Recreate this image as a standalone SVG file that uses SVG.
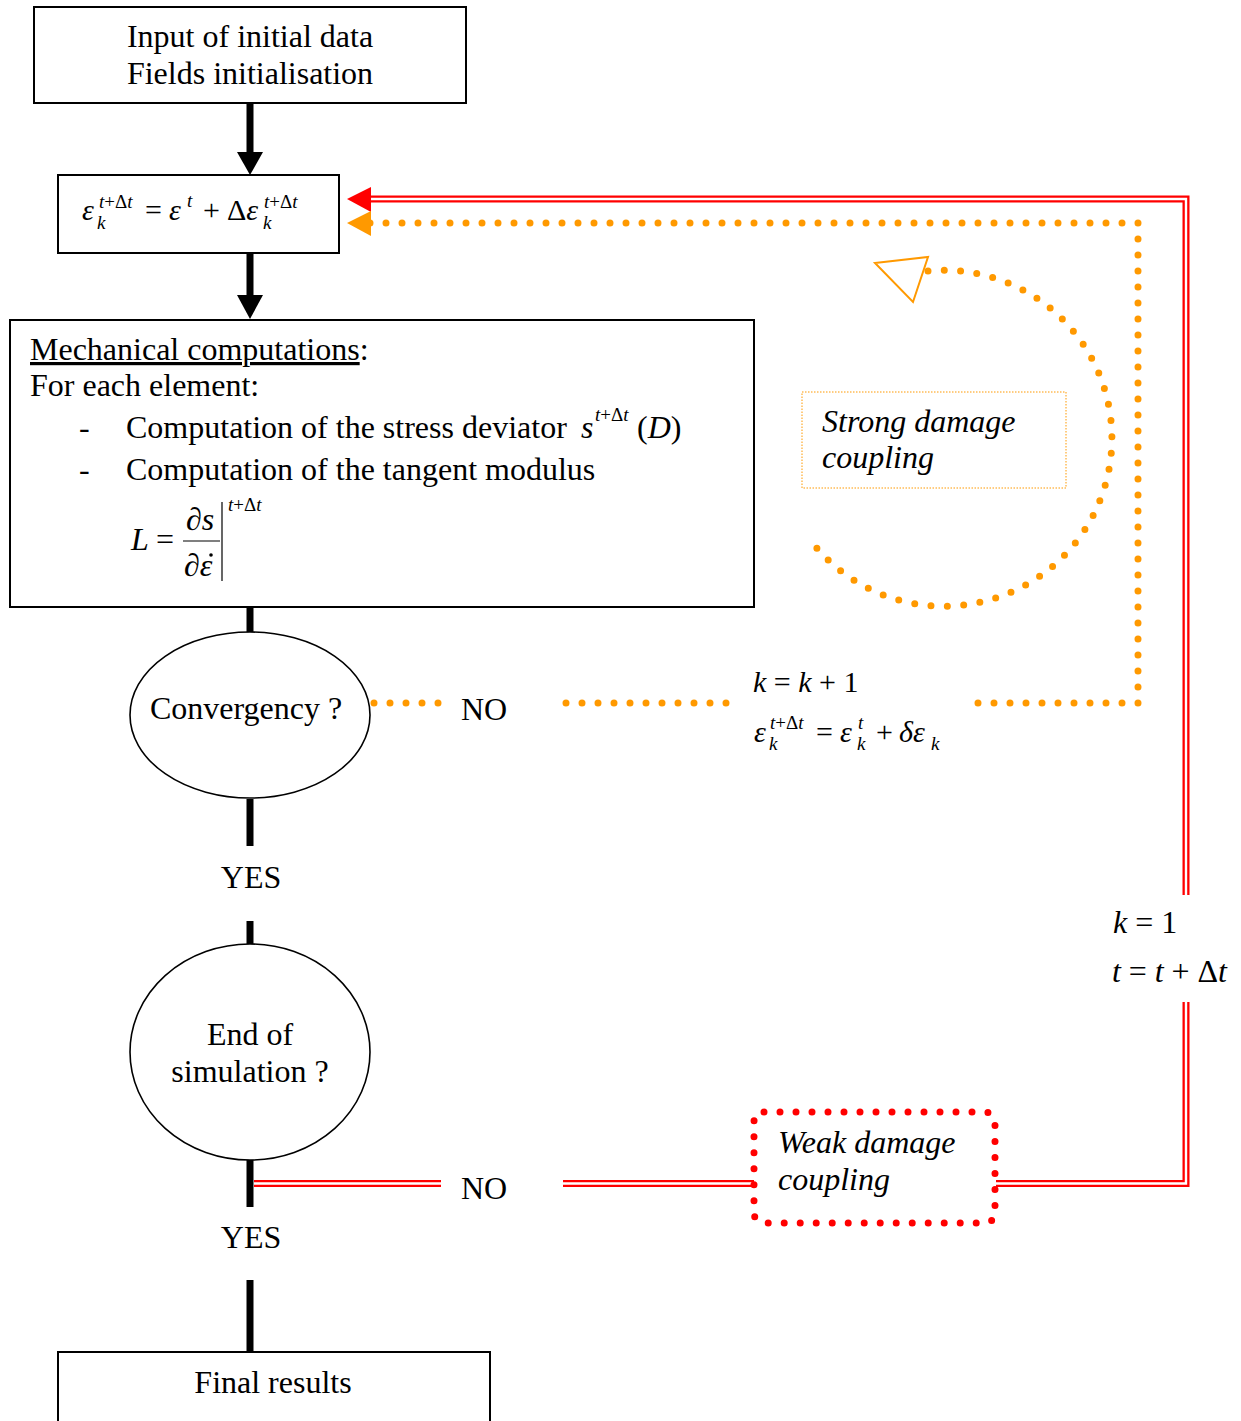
<svg xmlns="http://www.w3.org/2000/svg" width="1241" height="1421" viewBox="0 0 1241 1421">
<style>
text{font-family:"Liberation Serif","Times New Roman",serif;fill:#000}
.t{font-size:32px}
.m{font-size:30px}
.s{font-size:19px}
.i{font-style:italic}
.box{fill:#fff;stroke:#000;stroke-width:2}
.ell{fill:#fff;stroke:#000;stroke-width:1.6}
.thick{stroke:#000;stroke-width:7;fill:none}
.redo{stroke:#f00;stroke-width:7;fill:none;stroke-linejoin:miter}
.redi{stroke:#fff;stroke-width:2.4;fill:none;stroke-linejoin:miter}
.odot{stroke:#f90;stroke-width:7;fill:none;stroke-linecap:round;stroke-dasharray:0 16}
</style>
<g id="connectors">
<line class="thick" x1="250" y1="103" x2="250" y2="153"/>
<polygon points="237,152 263,152 250,175" fill="#000"/>
<line class="thick" x1="250" y1="253" x2="250" y2="296"/>
<polygon points="237,295 263,295 250,319" fill="#000"/>
<line class="thick" x1="250" y1="607" x2="250" y2="633"/>
<line class="thick" x1="250" y1="799" x2="250" y2="846"/>
<line class="thick" x1="250" y1="921" x2="250" y2="945"/>
<line class="thick" x1="250" y1="1159" x2="250" y2="1207"/>
<line class="thick" x1="250" y1="1280" x2="250" y2="1352"/>
<path class="redo" d="M370,199 H1186 V895"/>
<path class="redi" d="M370,199 H1186 V895"/>
<path class="redo" d="M1186,1002 V1183.5 H996"/>
<path class="redi" d="M1186,1002 V1183.5 H996"/>
<path class="redo" d="M754,1183.5 H563"/>
<path class="redi" d="M754,1183.5 H563"/>
<path class="redo" d="M441,1183.5 H254"/>
<path class="redi" d="M441,1183.5 H254"/>
<polygon points="347,199 371,187 371,212" fill="#f00"/>
<path class="odot" d="M370,223 H1138 V703 H976"/>
<path class="odot" d="M726,703 H564"/>
<path class="odot" d="M374,703 H438.5"/>
<polygon points="347,223 371,211 371,236" fill="#f90"/>
<path class="odot" d="M928,271 A168,168 0 1 1 808,537" style="stroke-dasharray:0 16.36"/>
<polygon points="875,263 928,257 913,302" fill="#fff" stroke="#f90" stroke-width="2"/>
</g>
<g id="n-input">
<rect class="box" x="34" y="7" width="432" height="96"/>
<text class="t" x="250" y="47" text-anchor="middle">Input of initial data</text>
<text class="t" x="250" y="84" text-anchor="middle">Fields initialisation</text>
</g>
<g id="n-strain">
<rect class="box" x="58" y="175" width="281" height="78"/>
<text class="m i" x="82" y="220">ε</text>
<text class="s" x="99" y="208"><tspan class="i">t</tspan>+Δ<tspan class="i">t</tspan></text>
<text class="s i" x="97" y="229">k</text>
<text class="m" x="145" y="220">=</text>
<text class="m i" x="169" y="220">ε</text>
<text class="s i" x="187" y="207">t</text>
<text class="m" x="203" y="220">+</text>
<text class="m" x="227" y="220">Δ<tspan class="i">ε</tspan></text>
<text class="s" x="264" y="208"><tspan class="i">t</tspan>+Δ<tspan class="i">t</tspan></text>
<text class="s i" x="263" y="229">k</text>
</g>
<g id="n-mech">
<rect class="box" x="10" y="320" width="744" height="287"/>
<text class="t" x="30" y="360"><tspan text-decoration="underline">Mechanical computations</tspan>:</text>
<text class="t" x="30" y="396">For each element:</text>
<text class="t" x="79" y="438">-</text>
<text class="t" x="126" y="438">Computation of the stress deviator</text>
<text class="t i" x="581" y="438">s</text>
<text class="s" x="595" y="421"><tspan class="i">t</tspan>+Δ<tspan class="i">t</tspan></text>
<text class="t" x="637" y="438">(<tspan class="i">D</tspan>)</text>
<text class="t" x="79" y="480">-</text>
<text class="t" x="126" y="480">Computation of the tangent modulus</text>
<text class="t i" x="131" y="550">L</text>
<text class="t" x="156" y="550">=</text>
<text class="t" x="186" y="530">∂<tspan class="i">s</tspan></text>
<line x1="183" y1="541" x2="220" y2="541" stroke="#000" stroke-width="1.2"/>
<text class="t" x="184" y="576">∂<tspan class="i">ε</tspan></text>
<circle cx="211" cy="555" r="1.8" fill="#000"/>
<line x1="222" y1="502" x2="222" y2="581" stroke="#000" stroke-width="1.2"/>
<text class="s" x="228" y="511"><tspan class="i">t</tspan>+Δ<tspan class="i">t</tspan></text>
</g>
<g id="n-conv">
<ellipse class="ell" cx="250" cy="715" rx="120" ry="83"/>
<text class="t" x="246" y="719" text-anchor="middle">Convergency ?</text>
</g>
<g id="l-no1"><text class="t" x="484" y="720" text-anchor="middle">NO</text></g>
<g id="l-kk1">
<text class="m" x="753" y="692"><tspan class="i">k</tspan> = <tspan class="i">k</tspan> + 1</text>
<text class="m i" x="754" y="742">ε</text>
<text class="s" x="770" y="729"><tspan class="i">t</tspan>+Δ<tspan class="i">t</tspan></text>
<text class="s i" x="769" y="750">k</text>
<text class="m" x="816" y="742">=</text>
<text class="m i" x="840" y="742">ε</text>
<text class="s i" x="858" y="729">t</text>
<text class="s i" x="857" y="750">k</text>
<text class="m" x="876" y="742">+</text>
<text class="m i" x="899" y="742">δε</text>
<text class="s i" x="931" y="750">k</text>
</g>
<g id="n-strong">
<rect x="802" y="392" width="264" height="96" fill="#fff" stroke="#f90" stroke-width="1" stroke-dasharray="1.5 1.5"/>
<text class="t i" x="822" y="432">Strong damage</text>
<text class="t i" x="822" y="468">coupling</text>
</g>
<g id="l-yes1"><text class="t" x="251" y="888" text-anchor="middle">YES</text></g>
<g id="l-k1">
<text class="t" x="1113" y="933"><tspan class="i">k</tspan> = 1</text>
<text class="t" x="1112" y="982" textLength="115"><tspan class="i">t</tspan> = <tspan class="i">t</tspan> + Δ<tspan class="i">t</tspan></text>
</g>
<g id="n-end">
<ellipse class="ell" cx="250" cy="1052" rx="120" ry="108"/>
<text class="t" x="250" y="1045" text-anchor="middle">End of</text>
<text class="t" x="250" y="1082" text-anchor="middle">simulation ?</text>
</g>
<g id="l-no2"><text class="t" x="484" y="1199" text-anchor="middle">NO</text></g>
<g id="n-weak">
<rect x="754" y="1112" width="241" height="111" rx="10" fill="#fff" stroke="#f00" stroke-width="7" stroke-linecap="round" stroke-dasharray="0 16"/>
<text class="t i" x="778" y="1153">Weak damage</text>
<text class="t i" x="778" y="1190">coupling</text>
</g>
<g id="l-yes2"><text class="t" x="251" y="1248" text-anchor="middle">YES</text></g>
<g id="n-final">
<rect class="box" x="58" y="1352" width="432" height="80"/>
<text class="t" x="273" y="1393" text-anchor="middle">Final results</text>
</g>
</svg>
